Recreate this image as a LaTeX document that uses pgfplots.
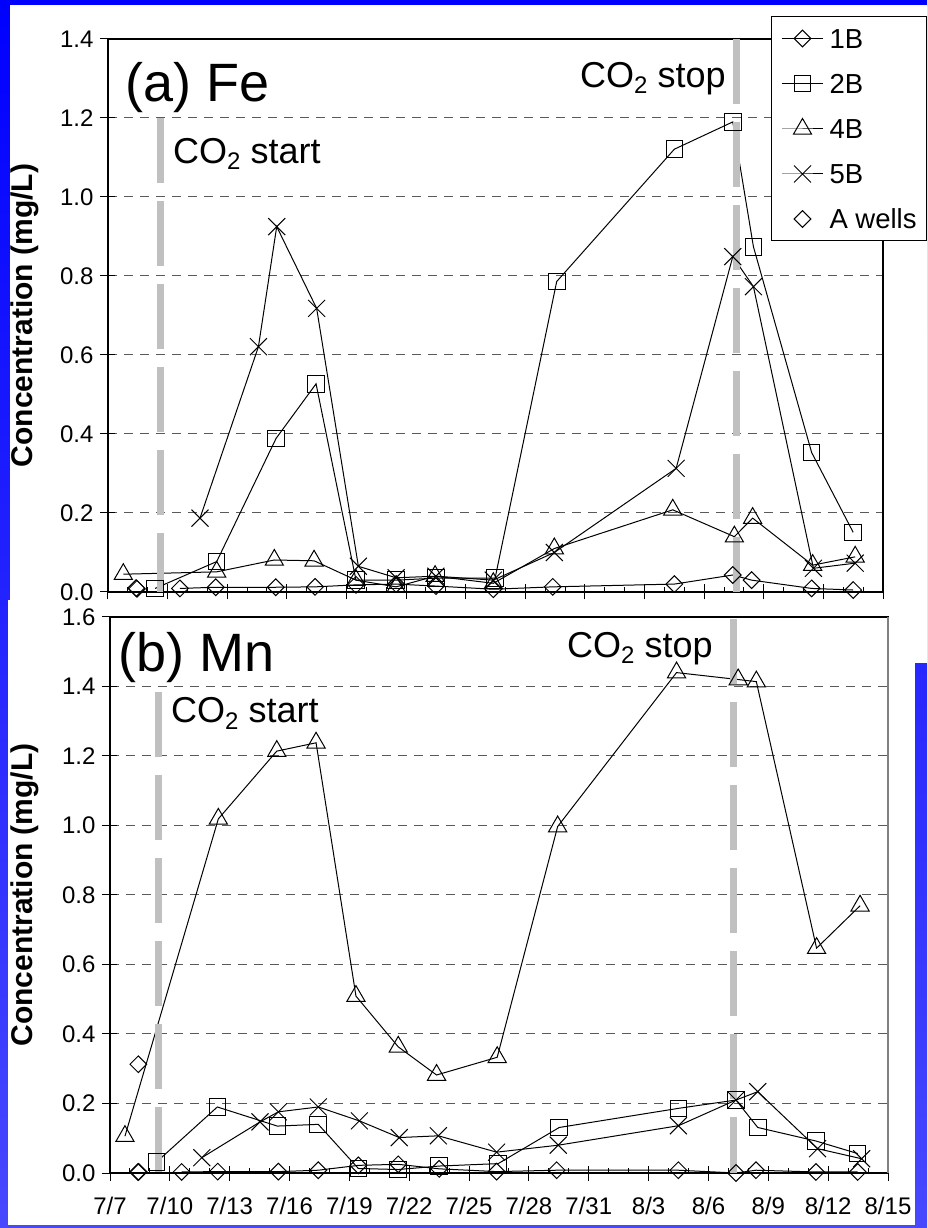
\documentclass[border=0pt]{standalone}
\usepackage{pgfplots}
\pgfplotsset{compat=1.18}
\usepackage{fontspec}
\setmainfont{Liberation Sans}
\definecolor{co2gray}{RGB}{192,192,192}
\definecolor{gridgray}{RGB}{90,90,90}
\pgfplotsset{
  myaxis/.style={
    scale only axis,
    clip=false,
    cycle list={{black}},
    xmin=0, xmax=39,
    xtick={0,3,...,39},
    minor xtick={0,1,...,39},
    xtick pos=bottom, ytick pos=left,
    xtick align=center, ytick align=outside,
    major tick length=15pt, minor tick length=5pt,
    minor x tick style={yshift=2.5pt},
    major y tick style={xshift=7pt},
    ymajorgrids,
    major grid style={draw=gridgray, line width=1pt, dash pattern=on 9pt off 7pt},
    axis line style={line width=1.2pt},
    tick style={line width=1pt, black},
    tick label style={font=\fontsize{24}{28}\selectfont},
    /pgf/number format/assume math mode=true,
    y tick label style={/pgf/number format/.cd, fixed, fixed zerofill, precision=1, /tikz/.cd, xshift=4pt},
    x tick label style={yshift=-13pt},
    ylabel={Concentration (mg/L)},
    ylabel style={font=\fontsize{30}{36}\selectfont\bfseries, anchor=center},
    every axis plot/.append style={black, line width=1pt, mark options={solid, line width=1pt}},
    legend image code/.code={\draw[mark repeat=2,mark phase=2,#1] plot coordinates {(0pt,0pt) (20.5pt,0pt) (41pt,0pt)};},
  },
  s1B/.style={black, mark=square, mark size=5.9pt, mark options={rotate=45}},
  s2B/.style={black, mark=square, mark size=8.3pt},
  s4B/.style={black, mark=triangle, mark size=10.5pt},
  s5B/.style={black, mark=x, mark size=12pt},
  sA/.style={black, only marks, mark=square, mark size=5.9pt, mark options={rotate=45}},
}
\newcommand{\cotwo}[1]{CO\raisebox{-6.5pt}{\fontsize{24}{24}\selectfont 2} #1}
\begin{document}
\begin{tikzpicture}[x=1pt,y=1pt]
\useasboundingbox (0,0) rectangle (927,1228);
\shade[top color={rgb,255:red,0;green,0;blue,255}, bottom color={rgb,255:red,72;green,72;blue,255}] (0,0) rectangle (927,1228);
\fill[white] (10,628) rectangle (927,1223);
\fill[white] (8,3) rectangle (915,628);
\fill[white] (915,565) rectangle (927,628);

% ---------- (a) Fe ----------
\begin{axis}[myaxis,
  at={(108pt,636pt)}, anchor=south west,
  width=775pt, height=553pt,
  ymin=0, ymax=1.4, ytick={0,0.2,...,1.4},
  xticklabels={},
  ylabel style={at={(axis description cs:-0.107,0.5)}},
  legend style={at={(0.8555,1.0416)}, anchor=north west, draw=black, line width=1pt, fill=white,
    font=\fontsize{27.5}{33}\selectfont, inner xsep=10pt, inner ysep=12pt,
    nodes={inner sep=0pt, text height=20pt, text depth=0pt}, row sep=25pt, column sep=6pt},
  legend cell align=left,
]
\addplot+[s1B] coordinates {(3.62,0.009) (5.42,0.012) (8.44,0.012) (10.42,0.013) (12.48,0.018) (14.5,0.02) (16.5,0.015) (19.39,0.007) (22.38,0.013) (28.5,0.02) (31.44,0.043) (32.39,0.03) (35.41,0.009) (37.5,0.005)};
\addlegendentry{1B}
\addplot+[s2B] coordinates {(2.37,0.009) (5.47,0.077) (8.46,0.389) (10.47,0.527) (12.48,0.03) (14.5,0.03) (16.5,0.035) (19.48,0.035) (22.58,0.786) (28.5,1.121) (31.44,1.19) (32.48,0.874) (35.41,0.353) (37.5,0.151)};
\addlegendentry{2B}
\addplot+[s4B] coordinates {(0.77,0.045) (5.47,0.051) (8.37,0.081) (10.37,0.079) (12.48,0.03) (14.5,0.013) (16.46,0.04) (19.39,0.022) (22.46,0.11) (28.42,0.208) (31.52,0.14) (32.44,0.187) (35.46,0.068) (37.6,0.089)};
\addlegendentry{4B}
\addplot+[s5B] coordinates {(4.63,0.187) (7.57,0.621) (8.49,0.925) (10.5,0.718) (12.6,0.065) (14.5,0.036) (16.5,0.04) (19.39,0.03) (22.46,0.10) (28.59,0.313) (31.44,0.849) (32.48,0.773) (35.5,0.06) (37.6,0.073)};
\addlegendentry{5B}
\addplot+[sA] coordinates {(1.42,0.01) (1.46,0.008)};
\addlegendentry{A wells}
\draw[co2gray, line width=7pt, dash pattern=on 65pt off 18pt] (axis cs:2.65,1.2) -- (axis cs:2.65,0);
\draw[co2gray, line width=7pt, dash pattern=on 65pt off 18pt] (axis cs:31.64,1.4) -- (axis cs:31.64,0);
\node[anchor=base west, inner sep=0pt, font=\fontsize{54}{60}\selectfont] at (axis cs:0.86,1.241) {(a) Fe};
\node[anchor=base west, inner sep=0pt, font=\fontsize{36}{42}\selectfont] at (axis cs:3.27,1.086) {\cotwo{start}};
\node[anchor=base west, inner sep=0pt, font=\fontsize{36}{42}\selectfont] at (axis cs:23.75,1.278) {\cotwo{stop}};
\end{axis}

% ---------- (b) Mn ----------
\begin{axis}[myaxis,
  at={(110pt,55pt)}, anchor=south west,
  width=778pt, height=556pt,
  ymin=0, ymax=1.6, ytick={0,0.2,...,1.6},
  xticklabels={7/7,7/10,7/13,7/16,7/19,7/22,7/25,7/28,7/31,8/3,8/6,8/9,8/12,8/15},
  ylabel style={at={(axis description cs:-0.109,0.5)}},
]
\addplot+[s1B] coordinates {(3.59,0.003) (5.4,0.004) (8.44,0.004) (10.44,0.008) (12.45,0.022) (14.45,0.025) (16.5,0.012) (19.38,0.004) (22.39,0.008) (28.49,0.008) (31.38,0.0) (32.38,0.008) (35.39,0.003) (37.48,0.003)};
\addplot+[s2B] coordinates {(2.34,0.032) (5.38,0.19) (8.39,0.135) (10.44,0.14) (12.45,0.013) (14.45,0.01) (16.5,0.02) (19.46,0.027) (22.52,0.131) (28.49,0.186) (31.38,0.21) (32.47,0.131) (35.39,0.092) (37.48,0.056)};
\addplot+[s4B] coordinates {(0.75,0.106) (5.43,1.019) (8.36,1.214) (10.33,1.238) (12.33,0.509) (14.45,0.363) (16.37,0.282) (19.41,0.333) (22.44,0.997) (28.4,1.44) (31.49,1.42) (32.4,1.414) (35.42,0.647) (37.6,0.769)};
\addplot+[s5B] coordinates {(4.6,0.044) (7.52,0.147) (8.44,0.176) (10.44,0.19) (12.5,0.15) (14.5,0.102) (16.46,0.107) (19.38,0.06) (22.47,0.08) (28.49,0.136) (31.38,0.21) (32.47,0.234) (35.47,0.07) (37.68,0.041)};
\addplot+[sA] coordinates {(1.42,0.313) (1.40,0.003) (1.44,0.003)};
\draw[co2gray, line width=7pt, dash pattern=on 65pt off 18pt] (axis cs:2.42,1.383) -- (axis cs:2.42,0);
\draw[co2gray, line width=7pt, dash pattern=on 65pt off 18pt] (axis cs:31.24,1.593) -- (axis cs:31.24,0);
\draw[gray, line width=1.2pt] (rel axis cs:1,0) -- (rel axis cs:1,1);
\node[anchor=base west, inner sep=0pt, font=\fontsize{54}{60}\selectfont] at (axis cs:0.40,1.443) {(b) Mn};
\node[anchor=base west, inner sep=0pt, font=\fontsize{36}{42}\selectfont] at (axis cs:3.06,1.296) {\cotwo{start}};
\node[anchor=base west, inner sep=0pt, font=\fontsize{36}{42}\selectfont] at (axis cs:22.91,1.484) {\cotwo{stop}};
\end{axis}
\end{tikzpicture}
\end{document}
